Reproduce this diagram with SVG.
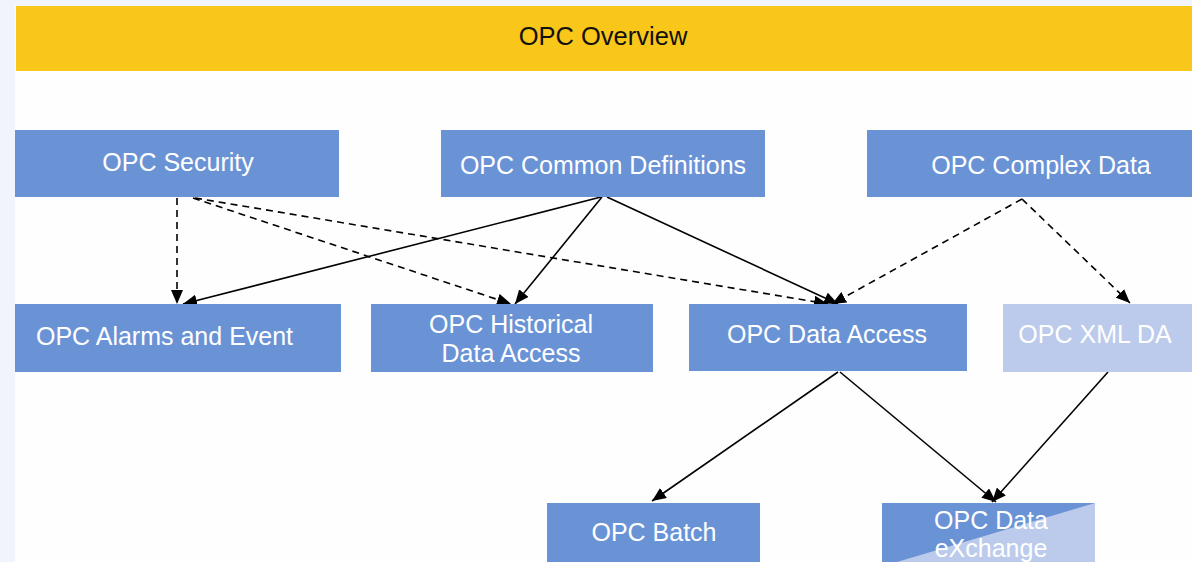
<svg xmlns="http://www.w3.org/2000/svg" width="1192" height="562" viewBox="0 0 1192 562">
<style>
.node{fill:#6a93d6}
.light{fill:#bccbeb}
.t{font-family:"Liberation Sans",Arial,sans-serif;font-size:25px;fill:#ffffff}
.tc{text-anchor:middle}
.title{font-family:"Liberation Sans",Arial,sans-serif;font-size:25.5px;fill:#111111;text-anchor:middle}
.e{stroke:#000;stroke-width:1.6;fill:none;marker-end:url(#ah)}
.d{stroke-dasharray:7,5}
</style>
<defs>
<marker id="ah" viewBox="0 0 14 12" refX="14" refY="6" markerWidth="14" markerHeight="12" markerUnits="userSpaceOnUse" orient="auto">
<path d="M0,0 L14,6 L0,12 z" fill="#000"/>
</marker>
</defs>
<rect x="0" y="0" width="1192" height="562" fill="#f1f4fd"/>
<rect x="15" y="6" width="1177" height="556" fill="#fefefe"/>
<g id="title">
<rect x="16" y="6" width="1176" height="65" fill="#f8c71a"/>
<text class="title" x="603" y="45">OPC Overview</text>
</g>
<g id="connectors">
<line class="e d" x1="177" y1="198" x2="177" y2="304"/>
<line class="e d" x1="193" y1="198" x2="511" y2="304"/>
<line class="e d" x1="195" y1="198" x2="828" y2="304"/>
<line class="e" x1="601" y1="197" x2="183" y2="304"/>
<line class="e" x1="602" y1="197" x2="515" y2="304"/>
<line class="e" x1="607" y1="197" x2="838" y2="304"/>
<line class="e d" x1="1022" y1="199" x2="832" y2="304"/>
<line class="e d" x1="1022" y1="199" x2="1130" y2="303"/>
<line class="e" x1="838" y1="372" x2="652" y2="501"/>
<line class="e" x1="840" y1="372" x2="996" y2="502"/>
<line class="e" x1="1108" y1="372" x2="992" y2="502"/>
</g>
<g id="n-security">
<rect class="node" x="15" y="130" width="324" height="67"/>
<text class="t tc" x="178" y="171">OPC Security</text>
</g>
<g id="n-common">
<rect class="node" x="441" y="130" width="324" height="67"/>
<text class="t tc" x="603" y="174">OPC Common Definitions</text>
</g>
<g id="n-complex">
<rect class="node" x="867" y="130" width="325" height="67"/>
<text class="t tc" x="1041" y="174">OPC Complex Data</text>
</g>
<g id="n-alarms">
<rect class="node" x="15" y="304" width="326" height="68"/>
<text class="t" x="36" y="345">OPC Alarms and Event</text>
</g>
<g id="n-historical">
<rect class="node" x="371" y="304" width="282" height="68"/>
<text class="t tc" x="511" y="333">OPC Historical</text>
<text class="t tc" x="511" y="362">Data Access</text>
</g>
<g id="n-dataaccess">
<rect class="node" x="689" y="304" width="278" height="67"/>
<text class="t tc" x="827" y="343">OPC Data Access</text>
</g>
<g id="n-xmlda">
<rect class="light" x="1003" y="304" width="189" height="68"/>
<text class="t tc" x="1095" y="343">OPC XML DA</text>
</g>
<g id="n-batch">
<rect class="node" x="547" y="503" width="213" height="59"/>
<text class="t tc" x="654" y="541">OPC Batch</text>
</g>
<g id="n-dx">
<rect class="light" x="882" y="503" width="213" height="59"/>
<polygon class="node" points="882,503 1095,503 897,562 882,562"/>
<text class="t tc" x="991" y="529">OPC Data</text>
<text class="t tc" x="991" y="557">eXchange</text>
</g>
</svg>
